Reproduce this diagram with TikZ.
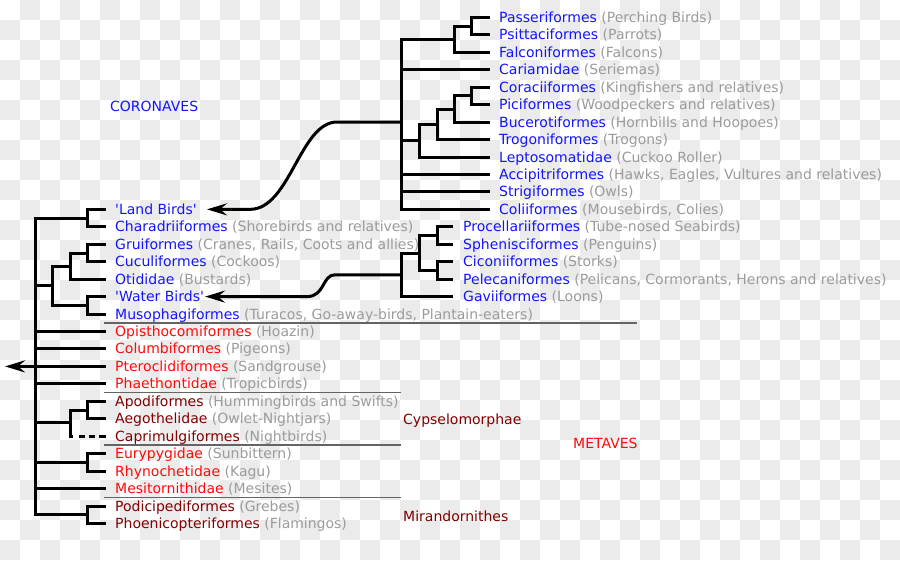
\documentclass[tikz,border=0pt]{standalone}
\usepackage{fontspec}
\newfontfamily\dvs{DejaVu Sans}
\usetikzlibrary{arrows.meta}
\definecolor{cblue}{RGB}{20,20,255}
\definecolor{cred}{RGB}{255,10,10}
\definecolor{cdred}{RGB}{128,0,0}
\definecolor{cgray}{RGB}{155,155,155}
\definecolor{checker}{RGB}{235,235,235}
\definecolor{sepgray}{RGB}{100,100,100}
\newcommand\cmn[1]{\textcolor{cgray}{#1}}
\begin{document}
\begin{tikzpicture}[x=1pt,y=-1pt,
  br/.style={line width=3pt,line cap=rect,line join=miter,black},
  arr/.style={br,-{Stealth[length=20pt,width=12pt,inset=7pt]}},
  sep/.style={line width=1.5pt,sepgray},
  lab/.style={anchor=base west,inner sep=0pt,font=\dvs\fontsize{14}{16}\selectfont},
  bl/.style={lab,text=cblue},
  rd/.style={lab,text=cred},
  dr/.style={lab,text=cdred}]
\useasboundingbox (0,0) rectangle (900,560);
% checkerboard background
\foreach \j in {0,...,27}{
  \pgfmathtruncatemacro\s{mod(\j+1,2)}
  \pgfmathtruncatemacro\t{\s+2}
  \foreach \i in {\s,\t,...,44}{
    \fill[checker] (\i*20,\j*20) rectangle ++(20,20);
  }
}
% ---------- top (land birds) clade ----------
\node[bl] (n0)  at (499,22.40)  {Passeriformes \cmn{(Perching Birds)}};
\node[bl] (n1)  at (499,39.85)  {Psittaciformes \cmn{(Parrots)}};
\node[bl] (n2)  at (499,57.30)  {Falconiformes \cmn{(Falcons)}};
\node[bl] (n3)  at (499,74.75)  {Cariamidae \cmn{(Seriemas)}};
\node[bl] (n4)  at (499,92.20)  {Coraciiformes \cmn{(Kingfishers and relatives)}};
\node[bl] (n5)  at (499,109.65) {Piciformes \cmn{(Woodpeckers and relatives)}};
\node[bl] (n6)  at (499,127.10) {Bucerotiformes \cmn{(Hornbills and Hoopoes)}};
\node[bl] (n7)  at (499,144.55) {Trogoniformes \cmn{(Trogons)}};
\node[bl] (n8)  at (499,162.00) {Leptosomatidae \cmn{(Cuckoo Roller)}};
\node[bl] (n9)  at (499,179.45) {Accipitriformes \cmn{(Hawks, Eagles, Vultures and relatives)}};
\node[bl] (n10) at (499,196.90) {Strigiformes \cmn{(Owls)}};
\node[bl] (n11) at (499,214.35) {Coliiformes \cmn{(Mousebirds, Colies)}};
\foreach \k/\y in {0/17.40,1/34.85,2/52.30,3/69.75,4/87.20,5/104.65,6/122.10,7/139.55,8/157.00,9/174.45,10/191.90,11/209.35}
  \coordinate (e\k) at (488.5,\y);
\coordinate (a1) at (471,26.1);
\coordinate (a2) at (454,39.2);
\coordinate (c1) at (471,95.9);
\coordinate (c2) at (454,109.0);
\coordinate (c3) at (437,124.3);
\coordinate (c4) at (419,140.6);
\coordinate (r1) at (401,122.0);
\draw[br] (e0) -| (a1) |- (e1);
\draw[br] (a1) -| (a2) |- (e2);
\draw[br] (e4) -| (c1) |- (e5);
\draw[br] (c1) -| (c2) |- (e6);
\draw[br] (c2) -| (c3) |- (e7);
\draw[br] (c3) -| (c4) |- (e8);
\draw[br] (a2) -| (r1) |- (e11);
\draw[br] (r1 |- e3) -- (e3);
\draw[br] (r1 |- c4) -- (c4);
\draw[br] (r1 |- e9) -- (e9);
\draw[br] (r1 |- e10) -- (e10);
% ---------- water birds clade ----------
\node[bl] (m12) at (463,231.80) {Procellariiformes \cmn{(Tube-nosed Seabirds)}};
\node[bl] (m13) at (463,249.25) {Sphenisciformes \cmn{(Penguins)}};
\node[bl] (m14) at (463,266.70) {Ciconiiformes \cmn{(Storks)}};
\node[bl] (m15) at (463,284.15) {Pelecaniformes \cmn{(Pelicans, Cormorants, Herons and relatives)}};
\node[bl] (m16) at (463,301.60) {Gaviiformes \cmn{(Loons)}};
\foreach \k/\y in {12/226.80,13/244.25,14/261.70,15/279.15,16/296.60}
  \coordinate (f\k) at (451.5,\y);
\coordinate (w1) at (437,235.5);
\coordinate (w2) at (437,270.4);
\coordinate (w3) at (419,253.0);
\coordinate (w4) at (401,274.8);
\draw[br] (f12) -| (w1) |- (f13);
\draw[br] (f14) -| (w2) |- (f15);
\draw[br] (w1) -| (w3) |- (w2);
\draw[br] (w3) -| (w4) |- (f16);
% ---------- left tree ----------
\node[bl] (h11) at (115,214.35) {'Land Birds'};
\node[bl] (h12) at (115,231.80) {Charadriiformes \cmn{(Shorebirds and relatives)}};
\node[bl] (h13) at (115,249.25) {Gruiformes \cmn{(Cranes, Rails, Coots and allies)}};
\node[bl] (h14) at (115,266.70) {Cuculiformes \cmn{(Cockoos)}};
\node[bl] (h15) at (115,284.15) {Otididae \cmn{(Bustards)}};
\node[bl] (h16) at (115,301.60) {'Water Birds'};
\node[bl] (h17) at (115,319.05) {Musophagiformes \cmn{(Turacos, Go-away-birds, Plantain-eaters)}};
\node[rd] (h18) at (115,336.50) {Opisthocomiformes \cmn{(Hoazin)}};
\node[rd] (h19) at (115,353.95) {Columbiformes \cmn{(Pigeons)}};
\node[rd] (h20) at (115,371.40) {Pteroclidiformes \cmn{(Sandgrouse)}};
\node[rd] (h21) at (115,388.85) {Phaethontidae \cmn{(Tropicbirds)}};
\node[dr] (h22) at (115,406.30) {Apodiformes \cmn{(Hummingbirds and Swifts)}};
\node[dr] (h23) at (115,423.75) {Aegothelidae \cmn{(Owlet-Nightjars)}};
\node[dr] (h24) at (115,441.20) {Caprimulgiformes \cmn{(Nightbirds)}};
\node[rd] (h25) at (115,458.65) {Eurypygidae \cmn{(Sunbittern)}};
\node[rd] (h26) at (115,476.10) {Rhynochetidae \cmn{(Kagu)}};
\node[rd] (h27) at (115,493.55) {Mesitornithidae \cmn{(Mesites)}};
\node[dr] (h28) at (115,511.00) {Podicipediformes \cmn{(Grebes)}};
\node[dr] (h29) at (115,528.45) {Phoenicopteriformes \cmn{(Flamingos)}};
\foreach \k/\y in {11/209.35,12/226.80,13/244.25,14/261.70,15/279.15,16/296.60,17/314.05,18/331.50,19/348.95,20/366.40,21/383.85,22/401.30,23/418.75,24/436.20,25/453.65,26/471.10,27/488.55,28/506.00,29/523.45}
  \coordinate (t\k) at (104.5,\y);
\coordinate (l1) at (87,218.1);
\coordinate (g1) at (87,253.0);
\coordinate (g2) at (70,266.1);
\coordinate (g3) at (87,305.3);
\coordinate (g4) at (52,285.7);
\coordinate (r0) at (35,366.4);
\coordinate (ap1) at (87,410.0);
\coordinate (ap2) at (70,422.0);
\coordinate (eu1) at (87,462.4);
\coordinate (po1) at (87,514.7);
\coordinate (rootarrow) at (5,366.4);
\coordinate (cpa) at (68.5,436.2);
\coordinate (cpb) at (106,436.2);
\draw[br] (t11) -| (l1) |- (t12);
\draw[br] (t13) -| (g1) |- (t14);
\draw[br] (g1) -| (g2) |- (t15);
\draw[br] (t16) -| (g3) |- (t17);
\draw[br] (g2) -| (g4) |- (g3);
\draw[br] (l1) -| (r0) |- (po1);
\draw[br] (t28) -| (po1) |- (t29);
\draw[br] (r0 |- g4) -- (g4);
\draw[br] (r0 |- t18) -- (t18);
\draw[br] (r0 |- t19) -- (t19);
\draw[br] (r0 |- t21) -- (t21);
\draw[br] (r0 |- ap2) -- (ap2);
\draw[br] (r0 |- eu1) -- (eu1);
\draw[br] (r0 |- t27) -- (t27);
\draw[br] (t22) -| (ap1) |- (t23);
\draw[br] (ap1) -| (ap2) -- (ap2 |- t24);
\draw[line width=3pt,dash pattern=on 4.5pt off 6pt on 6pt off 4pt on 6pt off 4pt on 7pt off 10pt] (cpa) -- (cpb);
\draw[br] (t25) -| (eu1) |- (t26);
\draw[arr] (t20) -- (rootarrow);
% ---------- connectors to clades ----------
\coordinate (lbt) at (207,209.35);
\coordinate (wbt) at (205,296.6);
\draw[arr] (r1) -- (337,122) .. controls (300,122) and (290,209.35) .. (250,209.35) -- (lbt);
\draw[arr] (w4) -- (335,274.8) .. controls (322,274.8) and (325,296.6) .. (307,296.6) -- (wbt);
% ---------- separators ----------
\draw[sep] (104,322.8) coordinate (s1a) -- (637,322.8) coordinate (s1b);
\draw[sep] (104,392.6) coordinate (s2a) -- (401,392.6) coordinate (s2b);
\draw[sep] (104,445.0) coordinate (s3a) -- (401,445.0) coordinate (s3b);
\draw[sep] (104,497.3) coordinate (s4a) -- (401,497.3) coordinate (s4b);
% ---------- group labels ----------
\node[bl] (coro) at (110,111) {CORONAVES};
\node[dr] (cyps) at (403,424) {Cypselomorphae};
\node[rd] (meta) at (573,448) {METAVES};
\node[dr] (mira) at (403,521) {Mirandornithes};
\end{tikzpicture}
\end{document}
